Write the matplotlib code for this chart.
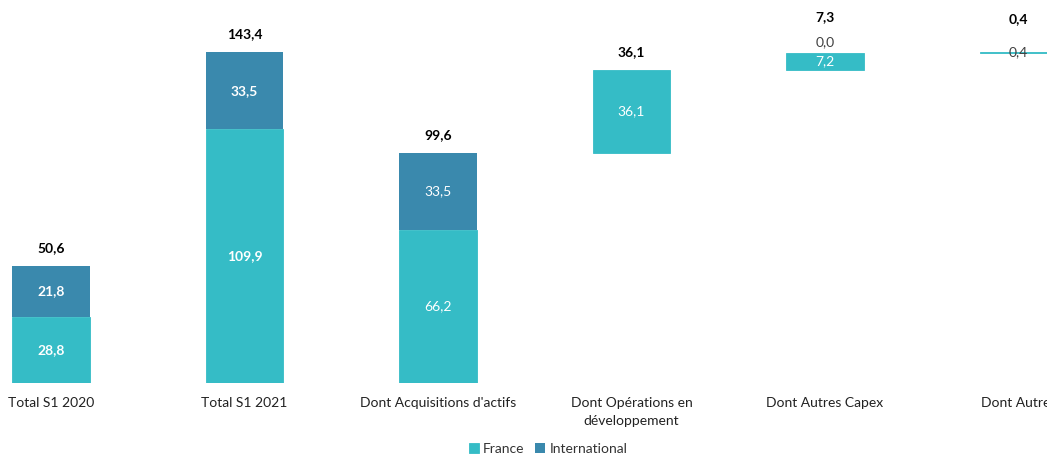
import matplotlib.pyplot as plt
import numpy as np

plt.rcParams['font.family'] = ['Lato', 'DejaVu Sans']

categories = ["Total S1 2020", "Total S1 2021", "Dont Acquisitions d'actifs",
              "Dont Opérations en\ndéveloppement", "Dont Autres Capex", "Dont Autres"]
france = [28.8, 109.9, 66.2, 36.1, 7.2, 0.4]
international = [21.8, 33.5, 33.5, 0.0, 0.0, 0.0]
totals = [50.6, 143.4, 99.6, 36.1, 7.3, 0.4]
intl_labels = ["21,8", "33,5", "33,5", "", "0,0", ""]
bold_inside = [True, True, False, False, False, False]

c_fr = '#35bcc6'
c_int = '#3a89ad'

# waterfall: first three bars start at 0, the rest stack on previous ones
bottoms = [0, 0, 0]
run = totals[2]
for t in totals[3:]:
    bottoms.append(run)
    run += t

fig = plt.figure(figsize=(10.47, 4.55), dpi=100)
ax = fig.add_axes([0, 72/455, 1, 383/455])
x = np.arange(len(categories))
w = 0.403

ax.bar(x, france, w, bottom=bottoms, color=c_fr, label='France',
       edgecolor=c_fr, linewidth=0.6)
ax.bar(x, international, w, bottom=np.array(bottoms) + np.array(france),
       color=c_int, label='International', linewidth=0)

def fmt(v):
    return f"{v:.1f}".replace('.', ',')

for i in range(len(x)):
    b = bottoms[i]
    fw = 'bold' if bold_inside[i] else 'normal'
    # France label
    if i == 5:
        ax.text(x[i], b + france[i], fmt(france[i]), ha='center', va='center',
                fontsize=10, color='#404040')
    else:
        ax.text(x[i], b + france[i] / 2, fmt(france[i]), ha='center', va='center',
                fontsize=10, color='white', fontweight=fw)
    # International label
    top = b + france[i] + international[i]
    if intl_labels[i] and international[i] > 0:
        ax.text(x[i], b + france[i] + international[i] / 2, intl_labels[i],
                ha='center', va='center', fontsize=10, color='white', fontweight=fw)
    elif intl_labels[i]:
        ax.annotate(intl_labels[i], (x[i], top), xytext=(0, 8), textcoords='offset points',
                    ha='center', va='center', fontsize=10, color='#404040')
    # total label
    off = 13
    if i == 4:
        off = 26
    if i == 5:
        off = 24
    ax.annotate(fmt(totals[i]), (x[i], b + totals[i]), xytext=(0, off),
                textcoords='offset points', ha='center', va='center',
                fontsize=10, fontweight='bold', color='black')

ax.set_xlim(-51/193.5, (1047 - 51)/193.5)
ax.set_ylim(0, 383/2.308)
ax.set_xticks(x)
ax.set_xticklabels(categories, fontsize=10, color='#222222', linespacing=1.6)
ax.tick_params(axis='x', length=0, pad=10)
ax.set_yticks([])
for s in ax.spines.values():
    s.set_visible(False)

fig.legend(loc='center', bbox_to_anchor=(548/1047, 1 - 449/455), ncol=2, frameon=False,
           fontsize=10, handlelength=0.7, handleheight=0.7, handletextpad=0.3,
           columnspacing=0.8, labelcolor='#333333')

fig.savefig('out.png', dpi=100)
